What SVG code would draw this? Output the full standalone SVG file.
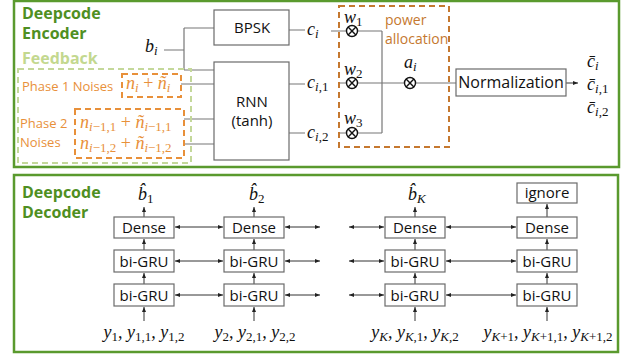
<svg xmlns="http://www.w3.org/2000/svg" width="628" height="354" viewBox="0 0 628 354">
<defs>
<marker id="ah" markerWidth="5" markerHeight="4" refX="5" refY="2" orient="auto-start-reverse" markerUnits="userSpaceOnUse">
<path d="M0,0 L5,2 L0,4 Z" fill="#222"/>
</marker>
<style>
.panel{fill:#fff;stroke:#5a9a2e;stroke-width:2.5}
.ttl{font-family:"Open Sans","Liberation Sans",sans-serif;font-weight:bold;font-size:16px;fill:#4f8f22}
.fb{font-family:"Open Sans","Liberation Sans",sans-serif;font-weight:bold;font-size:16px;fill:#c3d88f}
.box{fill:#fff;stroke:#6b6b6b;stroke-width:1.2}
.bt{font-family:"Open Sans","Liberation Sans",sans-serif;font-size:15px;fill:#111;text-anchor:middle}
.or{font-family:"Open Sans","Liberation Sans",sans-serif;font-size:13px;fill:#e8903a}
.pa{font-family:"Open Sans","Liberation Sans",sans-serif;font-size:14px;fill:#c5782f}
.m{font-family:"Liberation Serif","DejaVu Serif",serif;font-style:italic;font-size:18px;fill:#111}
.mo{font-family:"Liberation Serif","DejaVu Serif",serif;font-style:italic;font-size:18px;fill:#e8903a}
.s{font-size:13px}
.u{font-style:normal}
.ln{fill:none;stroke:#777;stroke-width:1.2}
.ar line{stroke:#333;stroke-width:1;marker-end:url(#ah)}
.ar2 line{stroke:#333;stroke-width:1;marker-end:url(#ah);marker-start:url(#ah)}
.dg{fill:none;stroke:#c4d89a;stroke-width:2;stroke-dasharray:6 4}
.do{fill:none;stroke:#e8903a;stroke-width:2;stroke-dasharray:6 4}
.dp{fill:none;stroke:#c5782f;stroke-width:2;stroke-dasharray:6 4}
.mul circle{fill:#fff;stroke:#111;stroke-width:1.4}
.mul path{stroke:#111;stroke-width:1.4}
</style>
</defs>

<g id="encoder-panel">
<rect class="panel" x="14" y="1" width="605" height="166"/>
<text class="ttl" x="22" y="19">Deepcode</text>
<text class="ttl" x="22" y="39">Encoder</text>
</g>
<g id="decoder-panel">
<rect class="panel" x="14" y="175" width="604" height="177"/>
<text class="ttl" x="22" y="198">Deepcode</text>
<text class="ttl" x="22" y="218">Decoder</text>
</g>

<g id="connectors">
<path class="ln" d="M164,50 H184 M184,28 V70 M184,28 H214 M184,70 H214"/>
<path class="ln" d="M181,84 H214 M184,119 H214 M184,144 H214"/>
<path class="ln" d="M289,30 H305 M289,84 H305 M289,133 H305"/>
<path class="ln" d="M331,31 H346 M340,83 H346 M340,133 H346"/>
<path class="ln" d="M358,31 H382 M358,83 H382 M358,133 H382 M382,31 V133 M382,83 H404"/>
<path class="ln" d="M416,83 H456"/>
<g class="ar">
<line x1="566" y1="83" x2="578" y2="83"/>
<line x1="144" y1="321" x2="144" y2="307"/><line x1="144" y1="284" x2="144" y2="273"/><line x1="144" y1="250" x2="144" y2="239"/><line x1="144" y1="217" x2="144" y2="207"/>
<line x1="254" y1="321" x2="254" y2="307"/><line x1="254" y1="284" x2="254" y2="273"/><line x1="254" y1="250" x2="254" y2="239"/><line x1="254" y1="217" x2="254" y2="207"/>
<line x1="415" y1="321" x2="415" y2="307"/><line x1="415" y1="284" x2="415" y2="273"/><line x1="415" y1="250" x2="415" y2="239"/><line x1="415" y1="217" x2="415" y2="207"/>
<line x1="547" y1="321" x2="547" y2="307"/><line x1="547" y1="284" x2="547" y2="273"/><line x1="547" y1="250" x2="547" y2="239"/><line x1="547" y1="217" x2="547" y2="204"/>
</g>
<g class="ar2">
<line x1="175" y1="227" x2="223" y2="227"/><line x1="175" y1="261" x2="223" y2="261"/><line x1="175" y1="295" x2="223" y2="295"/>
<line x1="285" y1="227" x2="320" y2="227"/><line x1="285" y1="261" x2="320" y2="261"/><line x1="285" y1="295" x2="320" y2="295"/>
<line x1="349" y1="227" x2="384" y2="227"/><line x1="349" y1="261" x2="384" y2="261"/><line x1="349" y1="295" x2="384" y2="295"/>
<line x1="446" y1="227" x2="516" y2="227"/><line x1="446" y1="261" x2="516" y2="261"/><line x1="446" y1="295" x2="516" y2="295"/>
</g>
</g>

<g id="feedback">
<rect class="dg" x="18" y="69" width="173" height="94"/>
<text class="fb" x="22" y="64">Feedback</text>
</g>
<g id="phase1">
<text class="or" x="22" y="91">Phase 1 Noises</text>
<rect class="do" x="122" y="74" width="59" height="23"/>
<text class="mo" x="126" y="89">n<tspan class="s" dy="3">i</tspan><tspan class="u" dy="-3"> + </tspan>ñ<tspan class="s" dy="3">i</tspan></text>
</g>
<g id="phase2">
<text class="or" x="20" y="128">Phase 2</text>
<text class="or" x="20" y="147">Noises</text>
<rect class="do" x="75" y="109" width="109" height="49"/>
<text class="mo" x="80" y="128">n<tspan class="s" dy="3">i<tspan class="u">−1,1</tspan></tspan><tspan class="u" dy="-3"> + </tspan>ñ<tspan class="s" dy="3">i<tspan class="u">−1,1</tspan></tspan></text>
<text class="mo" x="80" y="149">n<tspan class="s" dy="3">i<tspan class="u">−1,2</tspan></tspan><tspan class="u" dy="-3"> + </tspan>ñ<tspan class="s" dy="3">i<tspan class="u">−1,2</tspan></tspan></text>
</g>

<g id="bi">
<text class="m" x="145" y="52">b<tspan class="s" dy="3">i</tspan></text>
</g>
<g id="bpsk">
<rect class="box" x="214" y="10" width="75" height="35"/>
<text class="bt" x="252" y="33">BPSK</text>
</g>
<g id="rnn">
<rect class="box" x="214" y="62" width="75" height="98"/>
<text class="bt" x="252" y="107">RNN</text>
<text class="bt" x="252" y="126">(tanh)</text>
</g>
<g id="c-labels">
<text class="m" x="307" y="35">c<tspan class="s" dy="3">i</tspan></text>
<text class="m" x="307" y="88">c<tspan class="s" dy="3">i<tspan class="u">,1</tspan></tspan></text>
<text class="m" x="307" y="138">c<tspan class="s" dy="3">i<tspan class="u">,2</tspan></tspan></text>
</g>
<g id="power-allocation">
<rect class="dp" x="339" y="6" width="110" height="141"/>
<text class="pa" x="385" y="25">power</text>
<text class="pa" x="385" y="44">allocation</text>
</g>
<g id="w1" class="mul">
<text class="m" x="344" y="23">w<tspan class="s u" dy="3">1</tspan></text>
<circle cx="352" cy="31" r="5.5"/><path d="M348.1,27.1 L355.9,34.9 M355.9,27.1 L348.1,34.9"/>
</g>
<g id="w2" class="mul">
<text class="m" x="344" y="75">w<tspan class="s u" dy="3">2</tspan></text>
<circle cx="352" cy="83" r="5.5"/><path d="M348.1,79.1 L355.9,86.9 M355.9,79.1 L348.1,86.9"/>
</g>
<g id="w3" class="mul">
<text class="m" x="344" y="124">w<tspan class="s u" dy="3">3</tspan></text>
<circle cx="352" cy="133" r="5.5"/><path d="M348.1,129.1 L355.9,136.9 M355.9,129.1 L348.1,136.9"/>
</g>
<g id="ai" class="mul">
<text class="m" x="404" y="68">a<tspan class="s" dy="3">i</tspan></text>
<circle cx="410" cy="83" r="5.5"/><path d="M406.1,79.1 L413.9,86.9 M413.9,79.1 L406.1,86.9"/>
</g>
<g id="normalization">
<rect class="box" x="456" y="69" width="110" height="27"/>
<text class="bt" x="511" y="88" style="font-size:16px">Normalization</text>
</g>
<g id="cbar-labels">
<text class="m" x="587" y="67">c̄<tspan class="s" dy="3">i</tspan></text>
<text class="m" x="587" y="90">c̄<tspan class="s" dy="3">i<tspan class="u">,1</tspan></tspan></text>
<text class="m" x="587" y="113">c̄<tspan class="s" dy="3">i<tspan class="u">,2</tspan></tspan></text>
</g>

<g id="col1">
<rect class="box" x="114" y="217" width="60" height="21"/><text class="bt" x="144" y="233">Dense</text>
<rect class="box" x="114" y="250" width="60" height="22"/><text class="bt" x="144" y="267">bi-GRU</text>
<rect class="box" x="114" y="284" width="60" height="22"/><text class="bt" x="144" y="301">bi-GRU</text>
<text class="m" x="138" y="200">b̂<tspan class="s u" dy="3">1</tspan></text>
<text class="m" x="144" y="338" text-anchor="middle">y<tspan class="s u" dy="3">1</tspan><tspan dy="-3">, y</tspan><tspan class="s u" dy="3">1,1</tspan><tspan dy="-3">, y</tspan><tspan class="s u" dy="3">1,2</tspan></text>
</g>
<g id="col2">
<rect class="box" x="224" y="217" width="60" height="21"/><text class="bt" x="254" y="233">Dense</text>
<rect class="box" x="224" y="250" width="60" height="22"/><text class="bt" x="254" y="267">bi-GRU</text>
<rect class="box" x="224" y="284" width="60" height="22"/><text class="bt" x="254" y="301">bi-GRU</text>
<text class="m" x="249" y="200">b̂<tspan class="s u" dy="3">2</tspan></text>
<text class="m" x="255" y="338" text-anchor="middle">y<tspan class="s u" dy="3">2</tspan><tspan dy="-3">, y</tspan><tspan class="s u" dy="3">2,1</tspan><tspan dy="-3">, y</tspan><tspan class="s u" dy="3">2,2</tspan></text>
</g>
<g id="colK">
<rect class="box" x="385" y="217" width="60" height="21"/><text class="bt" x="415" y="233">Dense</text>
<rect class="box" x="385" y="250" width="60" height="22"/><text class="bt" x="415" y="267">bi-GRU</text>
<rect class="box" x="385" y="284" width="60" height="22"/><text class="bt" x="415" y="301">bi-GRU</text>
<text class="m" x="408" y="200">b̂<tspan class="s" dy="3">K</tspan></text>
<text class="m" x="415" y="338" text-anchor="middle">y<tspan class="s" dy="3">K</tspan><tspan dy="-3">, y</tspan><tspan class="s" dy="3">K<tspan class="u">,1</tspan></tspan><tspan dy="-3">, y</tspan><tspan class="s" dy="3">K<tspan class="u">,2</tspan></tspan></text>
</g>
<g id="colK1">
<rect class="box" x="517" y="183" width="60" height="20"/><text class="bt" x="547" y="198">ignore</text>
<rect class="box" x="517" y="217" width="60" height="21"/><text class="bt" x="547" y="233">Dense</text>
<rect class="box" x="517" y="250" width="60" height="22"/><text class="bt" x="547" y="267">bi-GRU</text>
<rect class="box" x="517" y="284" width="60" height="22"/><text class="bt" x="547" y="301">bi-GRU</text>
<text class="m" x="548" y="338" text-anchor="middle">y<tspan class="s" dy="3">K<tspan class="u">+1</tspan></tspan><tspan dy="-3">, y</tspan><tspan class="s" dy="3">K<tspan class="u">+1,1</tspan></tspan><tspan dy="-3">, y</tspan><tspan class="s" dy="3">K<tspan class="u">+1,2</tspan></tspan></text>
</g>
</svg>
